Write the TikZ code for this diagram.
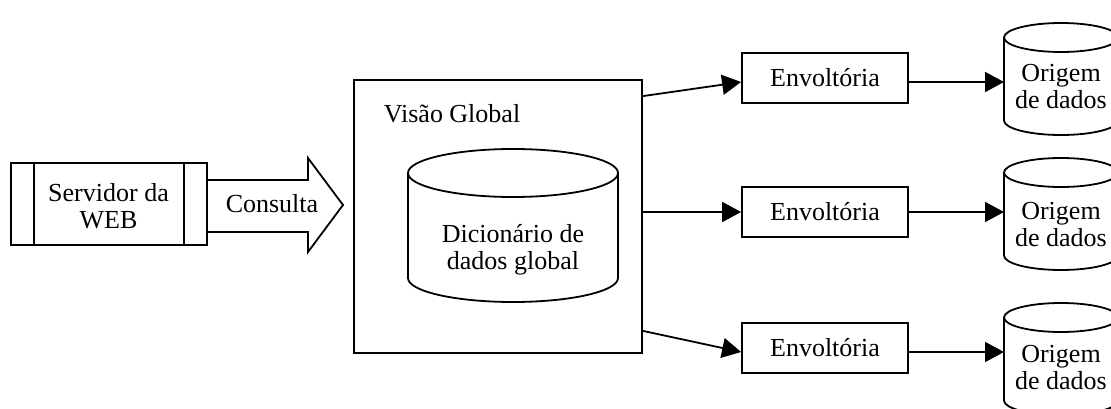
\documentclass[tikz,border=0pt]{standalone}
\usepackage{fontspec}
\setmainfont{Liberation Serif}
\usetikzlibrary{arrows.meta}
\begin{document}
\begin{tikzpicture}[x=1pt,y=1pt,
  line width=1.8pt,
  every node/.style={font=\fontsize{26}{27}\selectfont, inner sep=0pt},
  box/.style={draw, minimum width=166pt, minimum height=50pt},
  txt/.style={align=center},
  arr/.style={-{Triangle[length=19pt,width=20pt]}},
  ]
\clip (0,0) rectangle (1111,-409);
% web server
\node[draw, minimum width=196pt, minimum height=82pt] (srv) at (109,-204) {};
\draw ([xshift=24pt]srv.north west) -- ([xshift=24pt]srv.south west);
\draw ([xshift=-24pt]srv.north east) -- ([xshift=-24pt]srv.south east);
\node[txt] (srvt) at (108.5,-206) {Servidor da\\WEB};
% block arrow
\draw[line join=miter] (207,-180) -- (308,-180) -- (308,-158) -- (343,-205) -- (308,-252) -- (308,-232) -- (207,-232);
\node (cons) at (272,-203.5) {Consulta};
% global view
\node[draw, minimum width=288pt, minimum height=273pt] (vg) at (498,-216.5) {};
\node[anchor=base west] (vgt) at (383,-123) {Visão Global};
\draw (408,-173) -- (408,-278) arc[start angle=180,end angle=360,x radius=105pt,y radius=24pt] -- (618,-173);
\draw (513,-173) ellipse[x radius=105pt,y radius=24pt];
\node[txt] (dic) at (513,-250) {Dicionário de\\dados global};
% wrappers
\node[box] (e1) at (825,-78) {Envoltória};
\node[box] (e2) at (825,-212) {Envoltória};
\node[box] (e3) at (825,-348) {Envoltória};
% data sources
\foreach \T/\n in {37.5/1,172.5/2,317.5/3}{
  \draw (1004,-\T) -- (1004,-\T-83) arc[start angle=180,end angle=360,x radius=57pt,y radius=14.5pt] -- (1118,-\T);
  \draw (1061,-\T) ellipse[x radius=57pt,y radius=14.5pt];
}
\coordinate (c1) at (1004,-82);
\coordinate (c2) at (1004,-212);
\coordinate (c3) at (1004,-352);
\node[txt] (o1) at (1061,-86.7) {Origem\\de dados};
\node[txt] (o2) at (1061,-224.7) {Origem\\de dados};
\node[txt] (o3) at (1061,-367.7) {Origem\\de dados};
% connectors
\draw[arr] ([yshift=-17pt]vg.north east) -- ([yshift=-4pt]e1.west);
\draw[arr] (vg.east |- e2.west) -- (e2.west);
\draw[arr] ([yshift=23pt]vg.south east) -- ([yshift=-4pt]e3.west);
\draw[arr] ([yshift=-4pt]e1.east) -- (c1);
\draw[arr] (e2.east) -- (c2);
\draw[arr] ([yshift=-4pt]e3.east) -- (c3);
\end{tikzpicture}
\end{document}
